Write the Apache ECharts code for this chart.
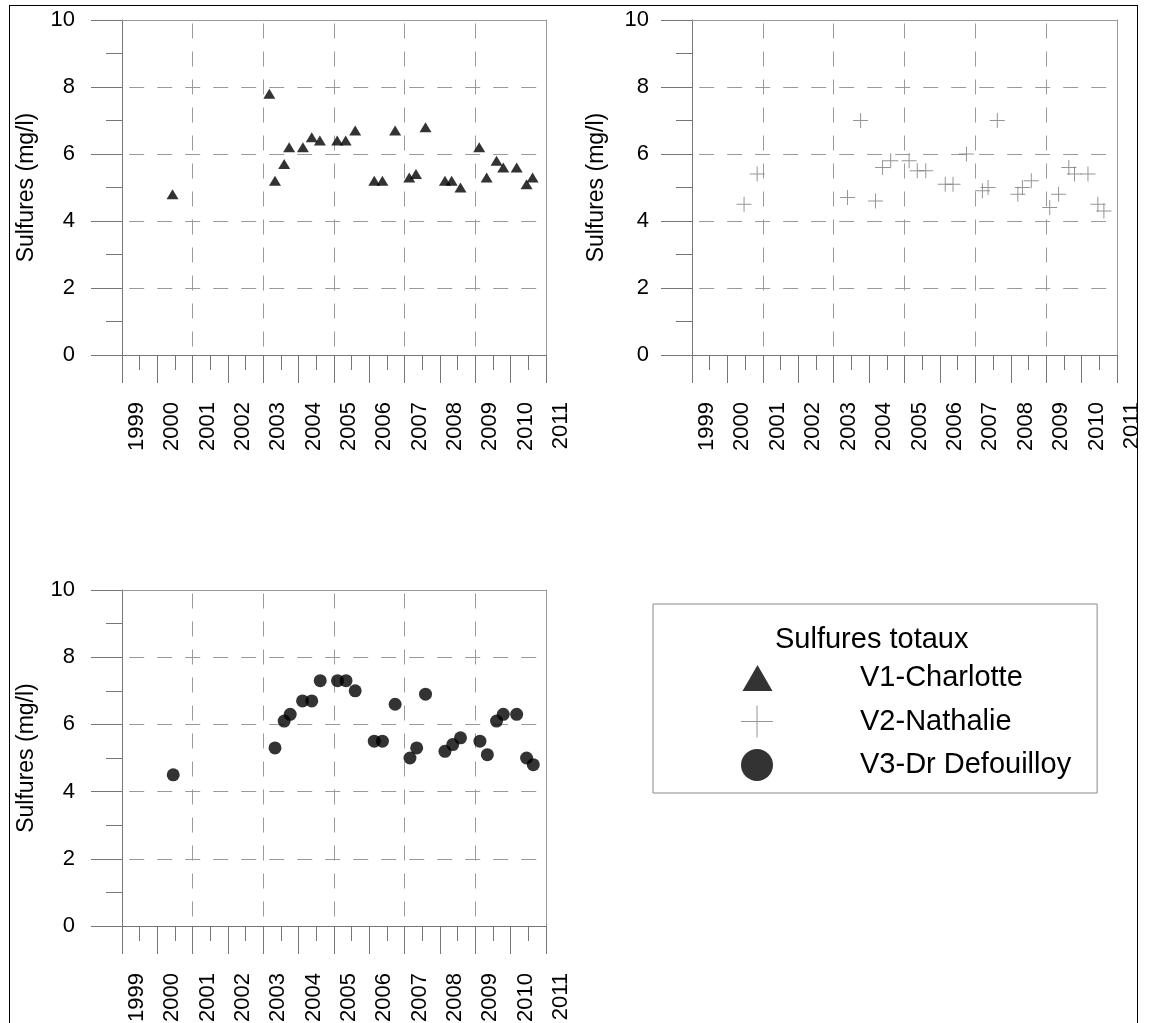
<!DOCTYPE html>
<html><head><meta charset="utf-8">
<script src="https://cdn.jsdelivr.net/npm/echarts@6/dist/echarts.min.js"></script>
<style>
html,body{margin:0;padding:0;background:#fff;}
#chart{width:1149px;height:1023px;}
#frame{position:absolute;left:9px;top:5px;width:1129px;height:1100px;border:1px solid #000;box-sizing:border-box;pointer-events:none;}
</style></head><body>
<div id="chart"></div>
<div id="frame"></div>
<script>
// ---- data ----
const yearMin = 1999;
const yearMax = 2011;
const valueMin = 0;
const valueMax = 10;
const yTitle = 'Sulfures (mg/l)';
const legendTitle = 'Sulfures totaux';
const seriesNames = ['V1-Charlotte', 'V2-Nathalie', 'V3-Dr Defouilloy'];

const v1Dates = [2000.43, 2003.17, 2003.33, 2003.59, 2003.73, 2004.12, 2004.37, 2004.60, 2005.09, 2005.33, 2005.60, 2006.14, 2006.37, 2006.73, 2007.13, 2007.32, 2007.59, 2008.14, 2008.33, 2008.58, 2009.11, 2009.32, 2009.60, 2009.79, 2010.17, 2010.45, 2010.62];
const v1Values = [4.8, 7.8, 5.2, 5.7, 6.2, 6.2, 6.5, 6.4, 6.4, 6.4, 6.7, 5.2, 5.2, 6.7, 5.3, 5.4, 6.8, 5.2, 5.2, 5.0, 6.2, 5.3, 5.8, 5.6, 5.6, 5.1, 5.3];

const v2Dates = [2000.47, 2000.84, 2003.39, 2003.76, 2004.18, 2004.38, 2004.61, 2005.13, 2005.36, 2005.60, 2006.15, 2006.37, 2006.75, 2007.20, 2007.36, 2007.62, 2008.20, 2008.33, 2008.58, 2009.10, 2009.35, 2009.64, 2009.80, 2010.18, 2010.46, 2010.63];
const v2Values = [4.5, 5.4, 4.7, 7.0, 4.6, 5.6, 5.8, 5.8, 5.5, 5.5, 5.1, 5.1, 6.0, 4.9, 5.0, 7.0, 4.8, 5.0, 5.2, 4.4, 4.8, 5.6, 5.4, 5.4, 4.5, 4.3];

const v3Dates = [2000.45, 2003.33, 2003.59, 2003.76, 2004.11, 2004.37, 2004.61, 2005.10, 2005.34, 2005.60, 2006.14, 2006.37, 2006.73, 2007.15, 2007.34, 2007.59, 2008.14, 2008.36, 2008.58, 2009.13, 2009.34, 2009.60, 2009.79, 2010.17, 2010.45, 2010.64];
const v3Values = [4.5, 5.3, 6.1, 6.3, 6.7, 6.7, 7.3, 7.3, 7.3, 7.0, 5.5, 5.5, 6.6, 5.0, 5.3, 6.9, 5.2, 5.4, 5.6, 5.5, 5.1, 6.1, 6.3, 6.3, 5.0, 4.8];

// ---- styles ----
const FONT = '"Liberation Sans", Arial, sans-serif';
const AXIS_COLOR = '#767676';
const FRAME_COLOR = '#9a9a9a';
const GRID_COLOR = '#9a9a9a';
const DASH = [15, 13];

const zip = (xs, ys) => xs.map((x, i) => [x, ys[i]]);

const grids = [
  {left: 122, top: 20, width: 424, height: 335, labelMargin: 47},
  {left: 692, top: 20, width: 425, height: 335, labelMargin: 43},
  {left: 122, top: 590, width: 424, height: 336, labelMargin: 47}
];

const xAxis = [], yAxis = [];
grids.forEach((g, gi) => {
  xAxis.push({
    type: 'value', gridIndex: gi, position: 'bottom', min: yearMin, max: yearMax, interval: 1,
    axisLine: {show: true, onZero: false, lineStyle: {color: AXIS_COLOR, width: 1}},
    axisTick: {show: true, length: 28, lineStyle: {color: AXIS_COLOR}},
    minorTick: {show: true, splitNumber: 2, length: 15, lineStyle: {color: AXIS_COLOR}},
    axisLabel: {show: true, rotate: 90, margin: 47, fontSize: 22, color: '#000', fontFamily: FONT,
      verticalAlign: 'top', lineHeight: 30, showMinLabel: true, showMaxLabel: true,
      formatter: v => String(Math.round(v))},
    splitLine: {show: false}
  });
  xAxis.push({
    type: 'value', gridIndex: gi, position: 'bottom', min: yearMin, max: yearMax, interval: 2,
    axisLine: {show: false}, axisTick: {show: false}, axisLabel: {show: false},
    splitLine: {show: true, lineStyle: {color: GRID_COLOR, width: 1, type: DASH, dashOffset: 24.5}}
  });
  xAxis.push({
    type: 'value', gridIndex: gi, position: 'top', min: yearMin, max: yearMax,
    axisLine: {show: true, onZero: false, lineStyle: {color: FRAME_COLOR, width: 1}},
    axisTick: {show: false}, axisLabel: {show: false}, splitLine: {show: false}
  });
  yAxis.push({
    type: 'value', gridIndex: gi, position: 'left', min: valueMin, max: valueMax, interval: 2,
    axisLine: {show: true, onZero: false, lineStyle: {color: AXIS_COLOR, width: 1}},
    axisTick: {show: true, length: 31, lineStyle: {color: AXIS_COLOR}},
    minorTick: {show: true, splitNumber: 2, length: 16, lineStyle: {color: AXIS_COLOR}},
    axisLabel: {show: true, margin: g.labelMargin, fontSize: 22, color: '#000', fontFamily: FONT},
    splitLine: {show: true, lineStyle: {color: GRID_COLOR, width: 1, type: DASH, dashOffset: 20.8}},
    name: yTitle, nameLocation: 'middle', nameGap: 84,
    nameTextStyle: {fontSize: 23, color: '#000', fontFamily: FONT}
  });
  yAxis.push({
    type: 'value', gridIndex: gi, position: 'right', min: valueMin, max: valueMax,
    axisLine: {show: true, onZero: false, lineStyle: {color: FRAME_COLOR, width: 1}},
    axisTick: {show: false}, axisLabel: {show: false}, splitLine: {show: false}
  });
});

const crossSymbol = 'path://M7,0h1v15h-1zM0,7h15v1h-15z';
const crossLegend = 'path://M31,0h2v64h-2zM0,31h64v2h-64z';
const triLegend = 'path://M0,0M0,32M1,29L16,3L31,29Z';

const option = {
  animation: false,
  backgroundColor: '#fff',
  grid: grids.map(g => ({left: g.left, top: g.top, width: g.width, height: g.height, containLabel: false, outerBoundsMode: 'none'})),
  xAxis, yAxis,
  title: {
    text: legendTitle, left: 775, top: 625, padding: 0,
    textStyle: {fontSize: 29, fontWeight: 'normal', color: '#000', fontFamily: FONT}
  },
  legend: {
    orient: 'vertical', left: 653, top: 604, padding: [58, 26, 12, 88],
    itemWidth: 32, itemHeight: 32, itemGap: 11.5,
    borderColor: '#8a8a8a', borderWidth: 1, selectedMode: false,
    formatter: name => '{p| }' + name,
    textStyle: {fontSize: 29, color: '#000', fontFamily: FONT, rich: {p: {width: 82, fontSize: 29}}},
    data: [
      {name: seriesNames[0], icon: triLegend},
      {name: seriesNames[1], icon: crossLegend},
      {name: seriesNames[2], icon: 'circle'}
    ]
  },
  series: [
    {name: seriesNames[0], type: 'scatter', xAxisIndex: 0, yAxisIndex: 0, data: zip(v1Dates, v1Values),
      symbol: 'triangle', symbolSize: [12, 10], itemStyle: {color: '#000'}},
    {name: seriesNames[1], type: 'scatter', xAxisIndex: 3, yAxisIndex: 2, data: zip(v2Dates, v2Values),
      symbol: crossSymbol, symbolSize: 15, itemStyle: {color: '#7a7a7a'}},
    {name: seriesNames[2], type: 'scatter', xAxisIndex: 6, yAxisIndex: 4, data: zip(v3Dates, v3Values),
      symbol: 'circle', symbolSize: 13, itemStyle: {color: '#000'}}
  ]
};

const chart = echarts.init(document.getElementById('chart'), null, {renderer: 'canvas'});
chart.setOption(option);
</script>
</body></html>
